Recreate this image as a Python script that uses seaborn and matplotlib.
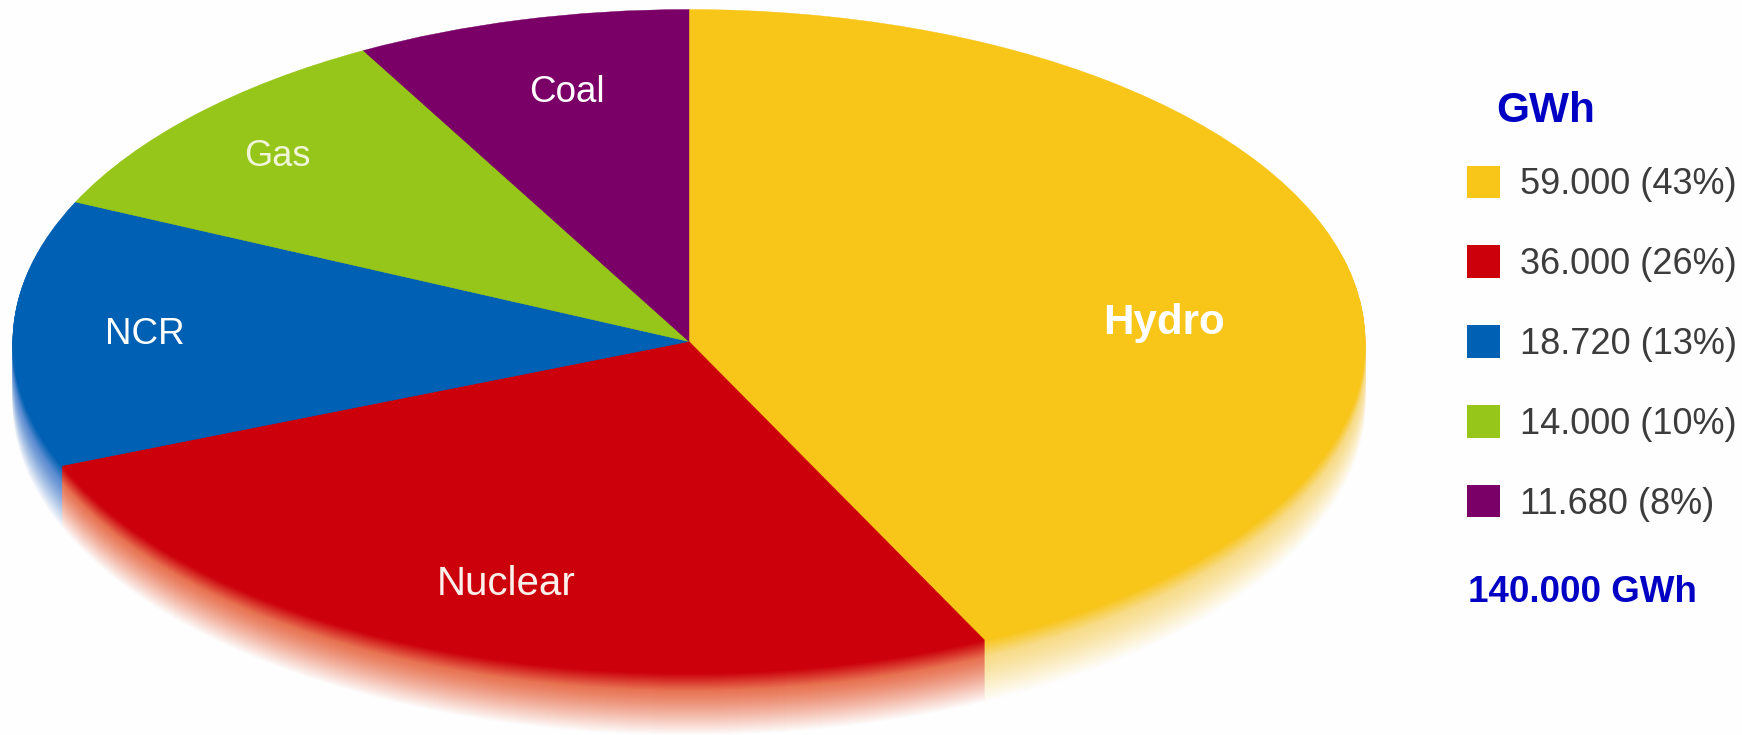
import numpy as np
import matplotlib
matplotlib.use("Agg")
import matplotlib.pyplot as plt
from matplotlib.colors import to_rgb
from matplotlib.patches import Patch
import seaborn as sns

sources = ["Hydro", "Nuclear", "NCR", "Gas", "Coal"]
gwh_labels = ["59.000", "36.000", "18.720", "14.000", "11.680"]
shares = [43, 26, 13, 10, 8]
slice_sizes = [42.8, 26.1, 13.0, 10.1, 8.0]
total_label = "140.000 GWh"
unit_label = "GWh"
hex_colors = ["#F8C519", "#CC000B", "#0060B3", "#97C61A", "#7A0068"]
mid_colors = ["#F7DC8A", "#E87453", "#5F8FD2", "#C8E080", "#B070A8"]

W, H = 1742, 735
CX, CY, RX, RY = 689.0, 341.5, 676.0, 332.0
DEPTH_PX = 62
BG = "#FEFEFE"

sns.set_theme(style="white")
plt.rcParams["font.family"] = ["Liberation Sans", "DejaVu Sans"]
palette = sns.color_palette(hex_colors)


def px(x, y):
    return (x / W, 1 - y / H)


def side_color(base, mid, t):
    base, mid, white = map(np.array, (to_rgb(base), to_rgb(mid), to_rgb(BG)))
    if t < 0.28:
        return tuple(base + (mid - base) * (t / 0.28))
    return tuple(mid + (white - mid) * ((t - 0.28) / 0.72) ** 1.15)


def draw_pie(ax, colors, drop, lw):
    wedges, _ = ax.pie(slice_sizes, colors=colors, startangle=90, counterclock=False,
                       center=(0, -drop), radius=1, frame=False)
    for w in wedges:
        w.set_edgecolor(w.get_facecolor())
        w.set_linewidth(lw)


fig = plt.figure(figsize=(W / 100, H / 100), dpi=100, facecolor=BG)
ax = fig.add_axes([0, 0, 1, 1])
ax.set_facecolor(BG)

# fading side of the disc: the same pie repeated, lower and paler
for d in range(DEPTH_PX, 0, -1):
    t = d / DEPTH_PX
    cols = [side_color(c, m, t) for c, m in zip(hex_colors, mid_colors)]
    draw_pie(ax, cols, d / RY, 0.6)

draw_pie(ax, palette, 0, 0.3)

ax.set_aspect("auto")
ax.set_xlim(-CX / RX, (W - CX) / RX)
ax.set_ylim((CY - H) / RY, CY / RY)
ax.axis("off")

label_pos = [(1164, 323), (506, 584), (145, 334), (277, 156), (567, 92)]
label_size = [30.3, 29, 26.5, 26, 26.5]
label_weight = ["bold", "normal", "normal", "normal", "normal"]
label_col = ["#FFFFFF", "#FDF0EC", "#FFFFFF", "#F0F5D8", "#FFFFFF"]
for name, p, s, w_, c in zip(sources, label_pos, label_size, label_weight, label_col):
    fx, fy = px(*p)
    ax.text(fx, fy, name, transform=fig.transFigure, ha="center", va="center",
            fontsize=s, fontweight=w_, color=c)

handles = [Patch(facecolor=c, edgecolor="none") for c in palette]
labels = [f"{g} ({s}%)" for g, s in zip(gwh_labels, shares)]
leg = fig.legend(handles, labels, loc="upper left", bbox_to_anchor=px(1466.5, 165.5),
                 frameon=False, fontsize=26, labelcolor="#3C3C3C",
                 handlelength=0.94, handleheight=1.01, handletextpad=0.54,
                 labelspacing=1.197, borderpad=0, borderaxespad=0)

fx, fy = px(1496, 122.5)
fig.text(fx, fy, unit_label, fontsize=30.5, fontweight="bold", color="#0000C4",
         ha="left", va="baseline")
fx, fy = px(1468, 602)
fig.text(fx, fy, total_label, fontsize=26.5, fontweight="bold", color="#0000C4",
         ha="left", va="baseline")

fig.savefig("out.png", dpi=100, facecolor=BG)
